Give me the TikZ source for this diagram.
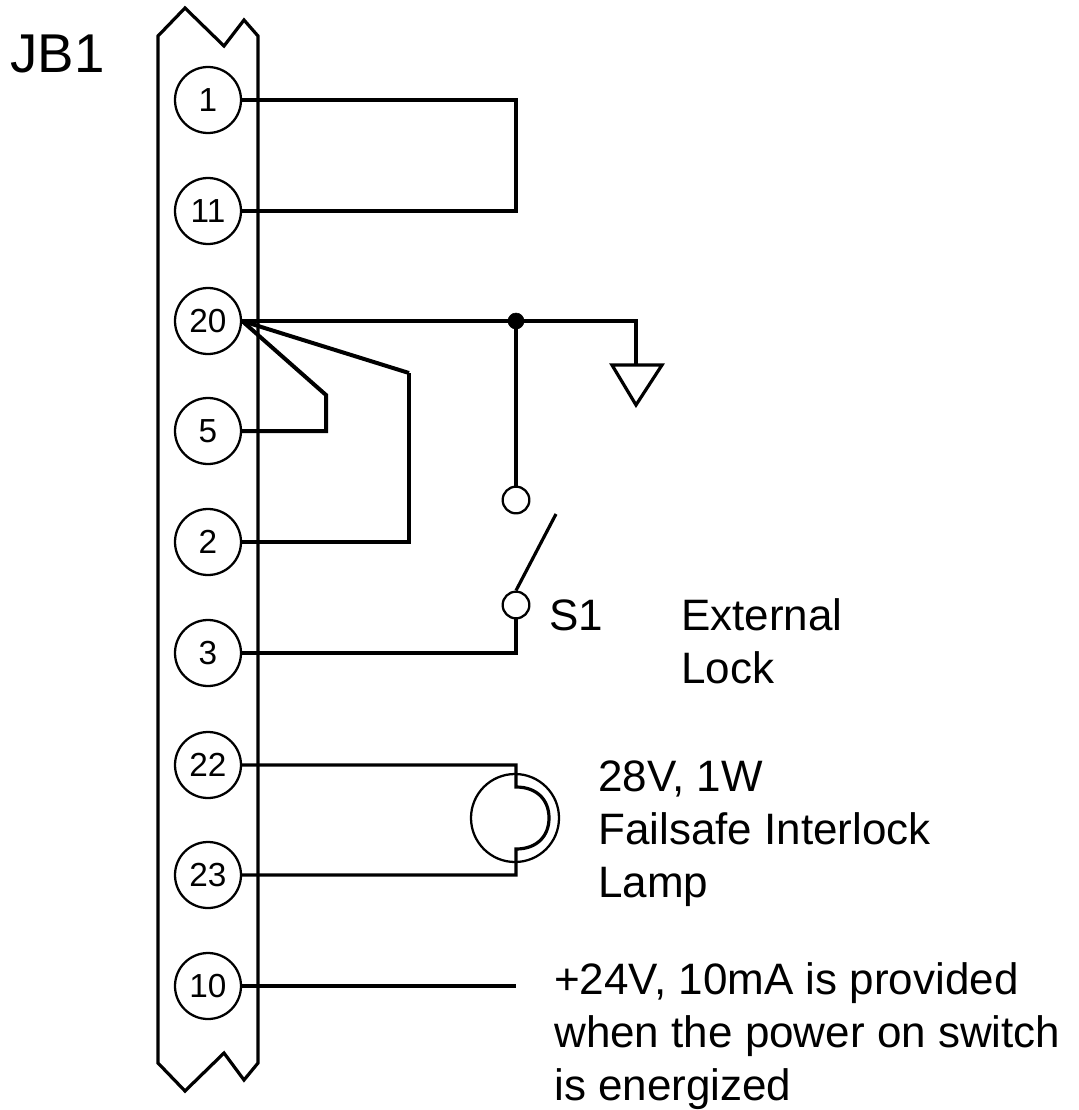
\documentclass[tikz,border=0pt]{standalone}
\usepackage{fontspec}
\setmainfont{Liberation Sans}
\tikzset{
 terminal/.style={draw,circle,minimum size=49.5pt,inner sep=0,line width=1.7pt,font=\fontsize{25}{25}\selectfont},
 contact/.style={draw,circle,minimum size=20pt,inner sep=0,line width=1.7pt},
 wire/.style={line width=2.4pt,line join=miter},
 caption/.style={anchor=base west,align=left,inner sep=0,font=\fontsize{33}{39.75}\selectfont}
}
\begin{document}
\begin{tikzpicture}[x=.75pt,y=-.75pt]
\useasboundingbox (0,0) rectangle (1078,1110);
\draw[line width=2.4pt] (158,36)--(185,8)--(224,46)--(244,20)--(258,36)--(258,1063)--(244,1080)--(224,1053)--(185,1091)--(158,1063)--cycle;
\foreach \n/\y in {1/100, 11/211, 20/321, 5/431, 2/542, 3/653, 22/765, 23/875, 10/986} {
 \node[terminal] (t\n) at (208,\y) {\n};
}
\node[caption,font=\fontsize{41}{41}\selectfont] (jb) at (10,72) {JB1};
% links
\coordinate (dot) at (516,321);
\coordinate (gnd) at (636,365);
\coordinate (vsup) at (516,986);
\draw[wire] (t1.east) -- (516,100) -- (516,211) -- (t11.east);
\draw[wire] (t20.east) -- (dot) -- (636,321) -- (gnd);
\draw[wire,line width=3pt] (t20.east) -- (326,395) -- (326,431) -- (t5.east);
\draw[wire,line width=3pt] (t20.east) -- (409,373);
\draw[wire] (409,373) -- (409,542) -- (t2.east);
\filldraw (dot) circle (8);
\draw[wire] (612,365) -- (662,365) -- (636,405) -- cycle;
% switch
\node[contact] (s1a) at (516,500) {};
\node[contact] (s1b) at (516,605) {};
\draw[wire] (dot) -- (s1a);
\draw[wire] (s1b.north) -- (556,514);
\draw[wire] (s1b) -- (516,653) -- (t3.east);
\node[caption] (s1) at (549,630) {S1};
\node[caption] (lock) at (681,683) {External\\Lock};
% lamp
\node[draw,circle,minimum size=66pt,inner sep=0,line width=1.7pt] (lamp) at (515,818) {};
\draw[wire] (t22.east) -- (516,765) -- (516,787) .. controls (537,787) and (549,800) .. (549,818) .. controls (549,836) and (537,849) .. (516,849) -- (516,875) -- (t23.east);
\node[caption] (lbl) at (598,897) {28V, 1W\\Failsafe Interlock\\Lamp};
\draw[wire] (t10.east) -- (vsup);
\node[caption] (pwr) at (554,1100) {+24V, 10mA is provided\\when the power on switch\\is energized};
\end{tikzpicture}
\end{document}
